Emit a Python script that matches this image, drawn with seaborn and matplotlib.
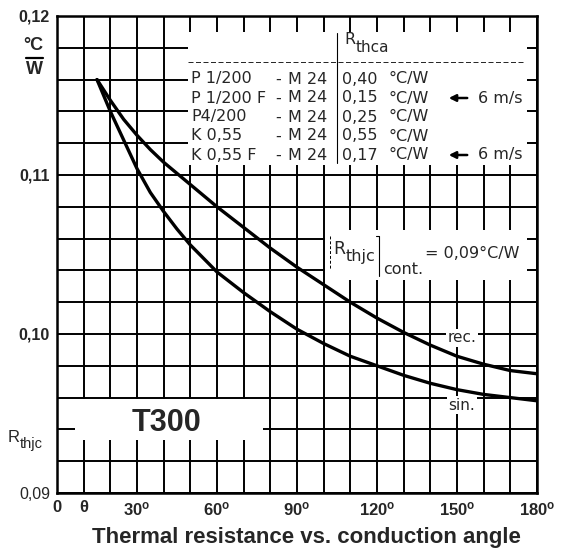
import numpy as np
import pandas as pd
import matplotlib
matplotlib.use("Agg")
import matplotlib.pyplot as plt
from matplotlib.patches import Rectangle
from matplotlib.lines import Line2D
import seaborn as sns

# ------------------------------------------------------
# Data (angle in deg, R_thjc in degC/W)
# ------------------------------------------------------
rec_angle = [15, 20, 25, 30, 35, 40, 45, 50, 60, 70, 80, 90, 100, 110, 120, 130, 140, 150, 160, 170, 180]
rec_value = [0.1160, 0.1147, 0.1135, 0.1125, 0.1116, 0.1108, 0.1101, 0.1094, 0.1080, 0.1067, 0.1054,
             0.1042, 0.1031, 0.1020, 0.1010, 0.1001, 0.0993, 0.0986, 0.0981, 0.0977, 0.0975]

sin_angle = [15, 20, 25, 30, 35, 40, 45, 50, 60, 70, 80, 90, 100, 110, 120, 130, 140, 150, 160, 170, 180]
sin_value = [0.1160, 0.1140, 0.1122, 0.1104, 0.1089, 0.1077, 0.1066, 0.1056, 0.1039, 0.1026, 0.1014,
             0.1003, 0.0994, 0.0986, 0.0980, 0.0974, 0.0969, 0.0965, 0.0962, 0.0960, 0.0958]

x_label_pos = [0, 10, 30, 60, 90, 120, 150, 180]
x_label_txt = ["0", "θ", r"$\mathbf{30^{o}}$", r"$\mathbf{60^{o}}$", r"$\mathbf{90^{o}}$",
               r"$\mathbf{120^{o}}$", r"$\mathbf{150^{o}}$", r"$\mathbf{180^{o}}$"]
y_label_pos = [0.09, 0.10, 0.11, 0.12]
y_label_txt = ["0,09", "0,10", "0,11", "0,12"]

heatsinks = ["P 1/200", "P 1/200 F", "P4/200", "K 0,55", "K 0,55 F"]
mounting = ["M 24", "M 24", "M 24", "M 24", "M 24"]
r_thca = ["0,40", "0,15", "0,25", "0,55", "0,17"]
airflow = ["", "6 m/s", "", "", "6 m/s"]

df = pd.DataFrame({
    "angle": rec_angle + sin_angle,
    "rth": rec_value + sin_value,
    "shape": ["rec."] * len(rec_angle) + ["sin."] * len(sin_angle),
})

# ------------------------------------------------------
# Plot
# ------------------------------------------------------
sns.set_style("white")
plt.rcParams["font.family"] = ["Liberation Sans", "DejaVu Sans"]
plt.rcParams["mathtext.fontset"] = "custom"
plt.rcParams["mathtext.bf"] = "Liberation Sans:bold"
plt.rcParams["mathtext.rm"] = "Liberation Sans"

W, H = 572, 559
fig = plt.figure(figsize=(W / 100, H / 100), dpi=100)
L, R, T, B = 57, 537, 16, 493
ax = fig.add_axes([L / W, 1 - B / H, (R - L) / W, (B - T) / H])

sns.lineplot(data=df, x="angle", y="rth", hue="shape", palette=["black", "black"],
             linewidth=2.4, legend=False, ax=ax, zorder=3)

ax.set_xlim(0, 180)
ax.set_ylim(0.09, 0.12)

xt = list(range(0, 181, 10))
ax.set_xticks(xt)
ax.set_xticklabels([x_label_txt[x_label_pos.index(v)] if v in x_label_pos else "" for v in xt],
                   fontsize=12, fontweight="bold")
yt = [round(0.09 + 0.002 * i, 3) for i in range(16)]
ax.set_yticks(yt)
ylabs = []
for v in yt:
    hit = [t for p, t in zip(y_label_pos, y_label_txt) if abs(p - v) < 1e-6]
    ylabs.append(hit[0] if hit else "")
ax.set_yticklabels(ylabs, fontsize=11.5, fontweight="bold")
for lab in ax.get_yticklabels():
    if lab.get_text() == "0,09":
        lab.set_fontweight("normal")
ax.tick_params(length=0, pad=5)
ax.tick_params(axis="x", pad=5)
ax.set_xlabel("")
ax.set_ylabel("")

ax.grid(True, color="black", linewidth=1.4)
ax.set_axisbelow(True)
for s in ax.spines.values():
    s.set_color("black")
    s.set_linewidth(1.8)


def fx(px):
    return (px - L) / (R - L)


def fy(py):
    return (B - py) / (B - T)


def box(x0, y0, x1, y1):
    ax.add_patch(Rectangle((fx(x0), fy(y1)), fx(x1) - fx(x0), fy(y0) - fy(y1),
                           transform=ax.transAxes, facecolor="white", edgecolor="none", zorder=2))


# white panels over the grid
box(188, 32, 527, 165)
box(75, 399, 263, 440)
box(325, 230, 527, 280)

tf = "DejaVu Sans"

# table of heatsinks
ax.add_line(Line2D([fx(188), fx(525)], [fy(62), fy(62)], transform=ax.transAxes,
                   color="black", linewidth=0.6, linestyle=(0, (6, 3)), zorder=3))
ax.add_line(Line2D([fx(337), fx(337)], [fy(33), fy(163)], transform=ax.transAxes,
                   color="black", linewidth=0.8, zorder=3))
ax.text(fx(344), fy(40), "R", transform=ax.transAxes, fontsize=11.5, family=tf, va="center", zorder=4)
ax.text(fx(356), fy(47), "thca", transform=ax.transAxes, fontsize=11, family=tf, va="center", zorder=4)

rows_y = [79, 98, 117, 136, 155]
for i, ry in enumerate(rows_y):
    kw = dict(transform=ax.transAxes, fontsize=11.5, family=tf, va="center", zorder=4)
    ax.text(fx(191), fy(ry), heatsinks[i], **kw)
    ax.text(fx(275), fy(ry), "-", **kw)
    ax.text(fx(288), fy(ry), mounting[i], **kw)
    ax.text(fx(342), fy(ry), r_thca[i], **kw)
    ax.text(fx(389), fy(ry), "°C/W", **kw)
    if airflow[i]:
        ax.annotate("", xy=(fx(446), fy(ry)), xytext=(fx(470), fy(ry)),
                    xycoords="axes fraction", textcoords="axes fraction",
                    arrowprops=dict(arrowstyle="-|>", color="black", lw=1.8,
                                    mutation_scale=10), zorder=4)
        ax.text(fx(478), fy(ry), airflow[i], **kw)

# continuous R_thjc note
kw = dict(transform=ax.transAxes, va="center", zorder=4, family=tf)
ax.add_line(Line2D([fx(330), fx(330)], [fy(236), fy(270)], transform=ax.transAxes,
                   color="black", linewidth=0.7, linestyle=(0, (3, 2)), zorder=4))
ax.text(fx(333), fy(249), "R", fontsize=12.5, **kw)
ax.text(fx(346), fy(256), "thjc", fontsize=11.5, **kw)
ax.add_line(Line2D([fx(376), fx(379), fx(379)], [fy(236), fy(236), fy(276)], transform=ax.transAxes,
                   color="black", linewidth=0.8, zorder=4))
ax.text(fx(383), fy(269), "cont.", fontsize=11.5, **kw)
ax.text(fx(425), fy(253), "= 0,09°C/W", fontsize=11.5, **kw)

# curve labels
for name, py in [("rec.", 338), ("sin.", 405)]:
    ax.text(fx(462), fy(py), name, transform=ax.transAxes, fontsize=11, family=tf,
            ha="center", va="center", zorder=4,
            bbox=dict(facecolor="white", edgecolor="none", pad=1.0))

# device type
ax.text(fx(167), fy(423), "T300", transform=ax.transAxes, fontsize=22, fontweight="bold",
        ha="center", va="center", zorder=4)

# unit and symbol on the y side
fig.text(33 / W, 1 - 45 / H, "°C", fontsize=13, fontweight="bold", ha="center", va="center")
fig.add_artist(Line2D([26 / W, 43 / W], [1 - 58 / H, 1 - 58 / H], color="black", linewidth=1.6))
fig.text(34 / W, 1 - 70 / H, "W", fontsize=13, fontweight="bold", ha="center", va="center")
fig.text(8 / W, 1 - 437 / H, "R", fontsize=12, ha="left", va="center")
fig.text(20 / W, 1 - 444 / H, "thjc", fontsize=10.5, ha="left", va="center")

fig.text(306 / W, 1 - 537 / H, "Thermal resistance vs. conduction angle", fontsize=16,
         fontweight="bold", ha="center", va="center")

fig.savefig("out.png", dpi=100)
